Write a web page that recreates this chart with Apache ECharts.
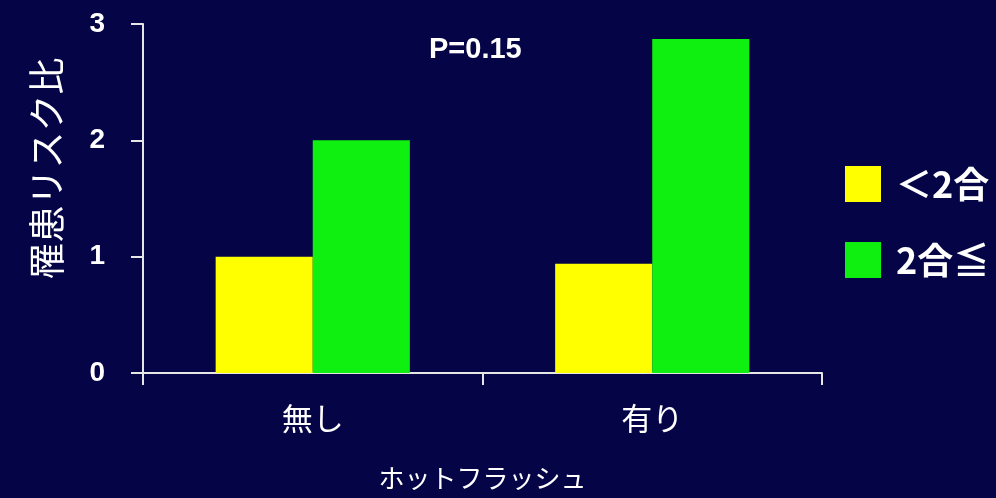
<!DOCTYPE html>
<html><head><meta charset="utf-8">
<script src="https://cdn.jsdelivr.net/npm/echarts@6/dist/echarts.min.js"></script>
<style>html,body{margin:0;padding:0;background:#040446;}#c{width:996px;height:498px;}</style>
</head><body><div id="c"></div>
<script>
const categories = ['無し', '有り'];
const seriesNames = ['＜2合', '2合≦'];
const lowValues = [1.0, 0.94];
const highValues = [2.0, 2.87];
const yTicks = [0, 1, 2, 3];
const annotation = 'P=0.15';

const chart = echarts.init(document.getElementById('c'));
const cjk = '"Noto Sans CJK JP", "Noto Sans", sans-serif';
chart.setOption({
  backgroundColor: '#040446',
  animation: false,
  title: {
    text: annotation, left: 424, top: 30,
    textStyle: {color: '#ffffff', fontFamily: 'Liberation Sans, Arial, sans-serif', fontWeight: 'bold', fontSize: 29}
  },
  legend: {
    orient: 'vertical', left: 840, top: 161,
    itemWidth: 36, itemHeight: 36, itemGap: 40,
    icon: 'rect',
    textStyle: {color: '#ffffff', fontFamily: cjk, fontWeight: 'bold', fontSize: 36, padding: [0,0,0,10]},
    data: seriesNames
  },
  grid: {left: 143, right: 174, top: 24, bottom: 125},
  xAxis: {
    type: 'category', data: categories,
    name: 'ホットフラッシュ', nameLocation: 'middle', nameGap: 92,
    nameTextStyle: {color: '#ffffff', fontFamily: cjk, fontSize: 26},
    axisLine: {lineStyle: {color: '#e6e6e6', width: 2}},
    axisTick: {show: true, length: 12, lineStyle: {color: '#e6e6e6', width: 2}},
    axisLabel: {color: '#ffffff', fontFamily: cjk, fontSize: 31, margin: 30}
  },
  yAxis: {
    type: 'value', min: yTicks[0], max: yTicks[yTicks.length-1], interval: 1,
    name: '罹患リスク比', nameLocation: 'middle', nameGap: 78,
    nameTextStyle: {color: '#ffffff', fontFamily: cjk, fontSize: 37, padding: [0, 0, 0, 60]},
    axisLine: {show: true, lineStyle: {color: '#e6e6e6', width: 2}},
    axisTick: {show: true, length: 12, lineStyle: {color: '#e6e6e6', width: 2}},
    splitLine: {show: false},
    axisLabel: {color: '#ffffff', fontFamily: 'Liberation Sans, Arial, sans-serif', fontWeight: 'bold', fontSize: 28, margin: 38}
  },
  series: [
    {name: seriesNames[0], type: 'bar', data: lowValues, barWidth: '28.6%', barGap: '0%', itemStyle: {color: '#ffff00'}},
    {name: seriesNames[1], type: 'bar', data: highValues, barWidth: '28.6%', barGap: '0%', itemStyle: {color: '#10f010'}}
  ]
});
</script></body></html>
